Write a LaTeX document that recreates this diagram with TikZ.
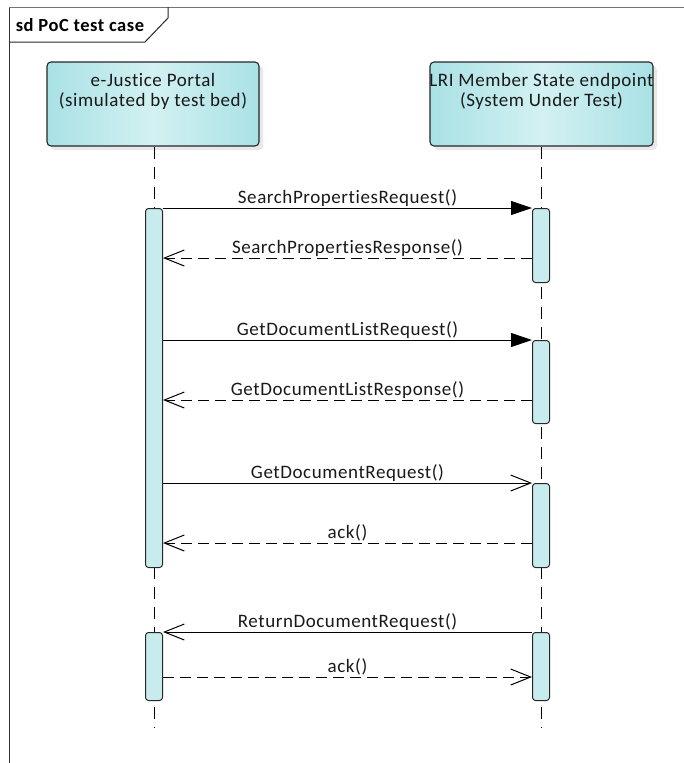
\documentclass[tikz,border=0pt]{standalone}
\usepackage{fontspec}
\setmainfont{Carlito}[LetterSpace=3, Ligatures=NoCommon]
\usepackage{tikz}
\usetikzlibrary{arrows.meta}
\usetikzlibrary{shadows}
\tikzset{>=Triangle}
\definecolor{boxdark}{HTML}{A9E1E5}
\definecolor{boxlight}{HTML}{D3F1F2}
\definecolor{barfill}{HTML}{C8ECEE}
\tikzset{
  lifebox/.style={draw=black!85, line width=1.1pt, rounded corners=4pt,
    left color=boxdark, right color=boxdark, middle color=boxlight,
    drop shadow={opacity=0.18, shadow xshift=4pt, shadow yshift=-4pt},
    minimum height=84pt, inner sep=0pt},
  boxtext/.style={anchor=north, align=center, inner sep=0pt,
    font=\fontsize{19}{20.5}\selectfont, text=black!90},
  actbar/.style={draw=black!85, line width=1pt, rounded corners=3pt,
    fill=barfill, minimum width=17pt, anchor=north, inner sep=0pt},
  lifeline/.style={line width=1pt, dash pattern=on 12pt off 8pt},
  call/.style={line width=1pt, -{Triangle[length=21pt,width=14pt]}},
  send/.style={line width=1pt, -{Straight Barb[length=20pt,width=16pt]}},
  reply/.style={line width=1pt, dash pattern=on 11pt off 6pt,
    -{Straight Barb[length=20pt,width=16pt]}},
  msg/.style={anchor=base, yshift=5pt, inner sep=0pt,
    font=\fontsize{19}{20}\selectfont, text=black!90},
}

\begin{document}
\begin{tikzpicture}[x=1pt, y=-1pt]
      \useasboundingbox (0,0) rectangle (684,763);
      \draw[black!80, line width=1pt] (9,763) -- (9,7);
      \draw[black!55, line width=1pt] (9,7) -- (684,7);
      \draw[black!85, line width=1pt] (9,42) -- (145,42) -- (168,18) -- (168,7);
      \node at (80,25) [font=\bfseries\fontsize{18.5}{20}\selectfont] (title) {sd PoC test case};

	  \node[lifebox, minimum width=212pt] (portal) at (153,104) {};
	  \node[boxtext] (portaltext) at (153,73) {e-Justice Portal\\(simulated by test bed)};
	  \node[lifebox, minimum width=223pt] (member) at (541.5,104) {};
	  \node[boxtext] (membertext) at (541.5,73) {LRI Member State endpoint\\(System Under Test)};

      \coordinate (portalend) at (154,727);
      \coordinate (memberend) at (541,727);
      \draw[lifeline] (portal.south -| portalend) -- (portalend);
      \draw[lifeline] (member.south -| memberend) -- (memberend);

	  \node[actbar, minimum height=359pt] (pa1) at (154,208) {};
	  \node[actbar, minimum height=68pt] (pa2) at (154,632) {};
	  \node[actbar, minimum height=74pt] (sa1) at (541,208) {};
	  \node[actbar, minimum height=83pt] (sa2) at (541,340) {};
	  \node[actbar, minimum height=84pt] (sa3) at (541,483) {};
	  \node[actbar, minimum height=68pt] (sa4) at (541,632) {};

      \coordinate (m1) at (0,208);
      \coordinate (m2) at (0,258);
      \coordinate (m3) at (0,340);
      \coordinate (m4) at (0,400);
      \coordinate (m5) at (0,483);
      \coordinate (m6) at (0,543);
      \coordinate (m7) at (0,632);
      \coordinate (m8) at (0,677);

      \draw[call] (m1 -| pa1.east) -- node[msg] {SearchPropertiesRequest()} (m1 -| sa1.west);
      \draw[reply] (m2 -| sa1.west) -- node[msg] {SearchPropertiesResponse()} (m2 -| pa1.east);
      \draw[call] (m3 -| pa1.east) -- node[msg] {GetDocumentListRequest()} (m3 -| sa2.west);
      \draw[reply] (m4 -| sa2.west) -- node[msg] {GetDocumentListResponse()} (m4 -| pa1.east);
      \draw[send] (m5 -| pa1.east) -- node[msg] {GetDocumentRequest()} (m5 -| sa3.west);
      \draw[reply] (m6 -| sa3.west) -- node[msg] {ack()} (m6 -| pa1.east);
      \draw[send] (m7 -| sa4.west) -- node[msg] {ReturnDocumentRequest()} (m7 -| pa2.east);
      \draw[reply] (m8 -| pa2.east) -- node[msg] {ack()} (m8 -| sa4.west);
\end{tikzpicture}
\end{document}
